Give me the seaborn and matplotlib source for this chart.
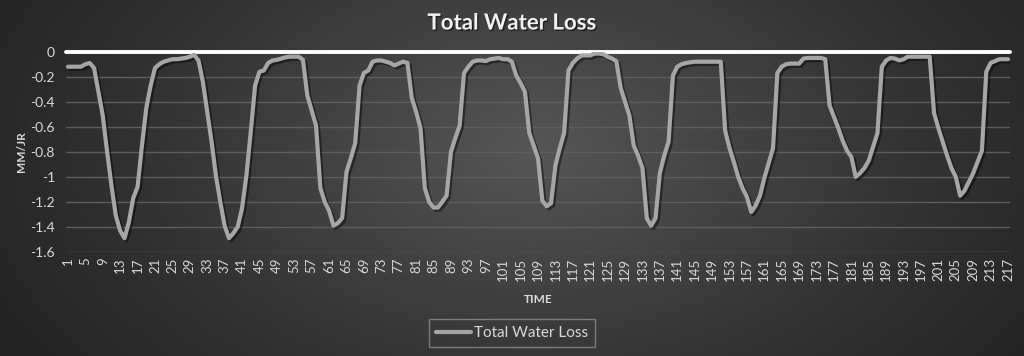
import numpy as np
import pandas as pd
import matplotlib
matplotlib.use("Agg")
import matplotlib.pyplot as plt
import matplotlib.patheffects as pe
import seaborn as sns

# ---------------- data ----------------
time = list(range(1, 218))
loss = [
    -0.12, -0.12, -0.12, -0.12, -0.10, -0.09, -0.13, -0.32, -0.51, -0.80,
    -1.07, -1.31, -1.43, -1.49, -1.36, -1.17, -1.08, -0.75, -0.45, -0.27,
    -0.13, -0.10, -0.08, -0.07, -0.06, -0.06, -0.055, -0.05, -0.04, -0.025,
    -0.07, -0.24, -0.48, -0.72, -0.99, -1.20, -1.39, -1.49, -1.45, -1.40,
    -1.25, -0.99, -0.64, -0.27, -0.16, -0.15, -0.09, -0.07, -0.065, -0.055,
    -0.045, -0.04, -0.04, -0.04, -0.065, -0.35, -0.47, -0.59, -1.09, -1.20,
    -1.27, -1.39, -1.37, -1.33, -0.96, -0.85, -0.73, -0.27, -0.17, -0.15,
    -0.08, -0.07, -0.07, -0.08, -0.09, -0.11, -0.095, -0.08, -0.09, -0.37,
    -0.48, -0.61, -1.09, -1.20, -1.245, -1.245, -1.20, -1.15, -0.80, -0.69,
    -0.59, -0.17, -0.12, -0.08, -0.07, -0.07, -0.075, -0.06, -0.055, -0.05,
    -0.06, -0.06, -0.08, -0.19, -0.25, -0.32, -0.65, -0.75, -0.85, -1.19,
    -1.235, -1.21, -0.91, -0.77, -0.65, -0.15, -0.09, -0.055, -0.03, -0.03,
    -0.03, -0.015, -0.015, -0.02, -0.04, -0.055, -0.075, -0.29, -0.40, -0.51,
    -0.75, -0.83, -0.93, -1.33, -1.39, -1.33, -0.97, -0.83, -0.72, -0.19,
    -0.12, -0.10, -0.09, -0.085, -0.08, -0.08, -0.08, -0.08, -0.08, -0.08,
    -0.08, -0.63, -0.77, -0.88, -1.00, -1.09, -1.16, -1.28, -1.23, -1.15,
    -1.01, -0.89, -0.77, -0.17, -0.12, -0.10, -0.095, -0.095, -0.095, -0.055,
    -0.05, -0.05, -0.05, -0.05, -0.06, -0.43, -0.52, -0.61, -0.71, -0.79,
    -0.84, -1.00, -0.97, -0.93, -0.87, -0.76, -0.65, -0.12, -0.07, -0.05,
    -0.055, -0.07, -0.06, -0.04, -0.04, -0.04, -0.04, -0.04, -0.04, -0.49,
    -0.61, -0.72, -0.83, -0.93, -1.00, -1.15, -1.11, -1.04, -0.97, -0.88,
    -0.79, -0.16, -0.09, -0.075, -0.06, -0.06, -0.06,
]
assert len(loss) == len(time)
y_ticks = [0, -0.2, -0.4, -0.6, -0.8, -1, -1.2, -1.4, -1.6]
y_tick_labels = ["0", "-0.2", "-0.4", "-0.6", "-0.8", "-1", "-1.2", "-1.4", "-1.6"]
x_ticks = list(range(1, 218, 4))
series_name = "Total Water Loss"
title = "Total Water Loss"
x_label = "TIME"
y_label = "MM/JR"

df = pd.DataFrame({"time": time, "loss": loss})

# ---------------- style ----------------
sns.set_theme(style="dark")
plt.rcParams["font.family"] = ["Lato", "DejaVu Sans"]

W, H = 1024, 356
fig = plt.figure(figsize=(W / 100, H / 100), dpi=100)

# radial gradient background
bg = fig.add_axes([0, 0, 1, 1], zorder=-10)
yy, xx = np.mgrid[0:H, 0:W]
r = np.sqrt(((xx - 0.52 * W) / (0.62 * W)) ** 2 + ((yy - 0.42 * H) / (1.1 * H)) ** 2)
r = np.clip(r, 0, 1)
edge, center = 0.14, 0.34
val = edge + (center - edge) * (1 - r) ** 1.3
bg.imshow(np.dstack([val, val, val]), aspect="auto", extent=(0, 1, 0, 1), interpolation="bilinear")
bg.set_axis_off()

left_px, right_px = 66, 1010
top_px, bot_px = 51.7, 252
ax = fig.add_axes([left_px / W, 1 - bot_px / H, (right_px - left_px) / W, (bot_px - top_px) / H])
ax.set_facecolor("none")

sns.lineplot(data=df, x="time", y="loss", ax=ax, color="#a6a6a6", linewidth=3.0,
             label=series_name, zorder=5,
             path_effects=[pe.SimpleLineShadow(offset=(1.5, -1.5), shadow_color="black", alpha=0.45),
                           pe.Normal()])

ax.axhline(0, color="white", linewidth=2.8, zorder=4, clip_on=False)

ax.set_xlim(0.55, 217.45)
ax.set_ylim(-1.6, 0)
ax.set_yticks(y_ticks)
ax.set_yticklabels(y_tick_labels)
ax.set_xticks(x_ticks)
ax.set_xticklabels([str(t) for t in x_ticks], rotation=90)
ax.tick_params(axis="y", colors="#d9d9d9", labelsize=10, length=0, pad=8)
ax.tick_params(axis="x", colors="#d9d9d9", labelsize=9.5, length=0, pad=4)
for lab in ax.get_xticklabels() + ax.get_yticklabels():
    lab.set_color("#d9d9d9")

ax.yaxis.grid(True, color="#5e5e5e", linewidth=1.0)
ax.xaxis.grid(False)
for s in ax.spines.values():
    s.set_visible(False)

ax.set_xlabel(x_label, color="#d9d9d9", fontsize=8.5, fontweight="bold", labelpad=4)
ax.set_ylabel(y_label, color="#d9d9d9", fontsize=8.5, fontweight="bold", labelpad=8)
ax.xaxis.set_label_coords((538 - left_px) / (right_px - left_px), -(294 - bot_px) / (bot_px - top_px))
ax.yaxis.set_label_coords(-(left_px - 27) / (right_px - left_px), 0.5)

fig.text(0.5, 1 - 23 / H, title, ha="center", va="center", color="#f2f2f2",
         fontsize=16, fontweight="bold",
         path_effects=[pe.withSimplePatchShadow(offset=(1, -1), shadow_rgbFace="black", alpha=0.5)])

leg = ax.legend(loc="center", bbox_to_anchor=(512 / W, 1 - 333 / H), bbox_transform=fig.transFigure,
                frameon=True, fancybox=False, fontsize=11, handlelength=2.3, handletextpad=0.2,
                borderpad=0.45, labelcolor="#d9d9d9")
leg.get_frame().set_facecolor("none")
leg.get_frame().set_edgecolor("#8c8c8c")
leg.get_frame().set_linewidth(1.0)
for h in leg.get_lines():
    h.set_linewidth(3.0)
    h.set_path_effects([])

fig.savefig("out.png", dpi=100)
